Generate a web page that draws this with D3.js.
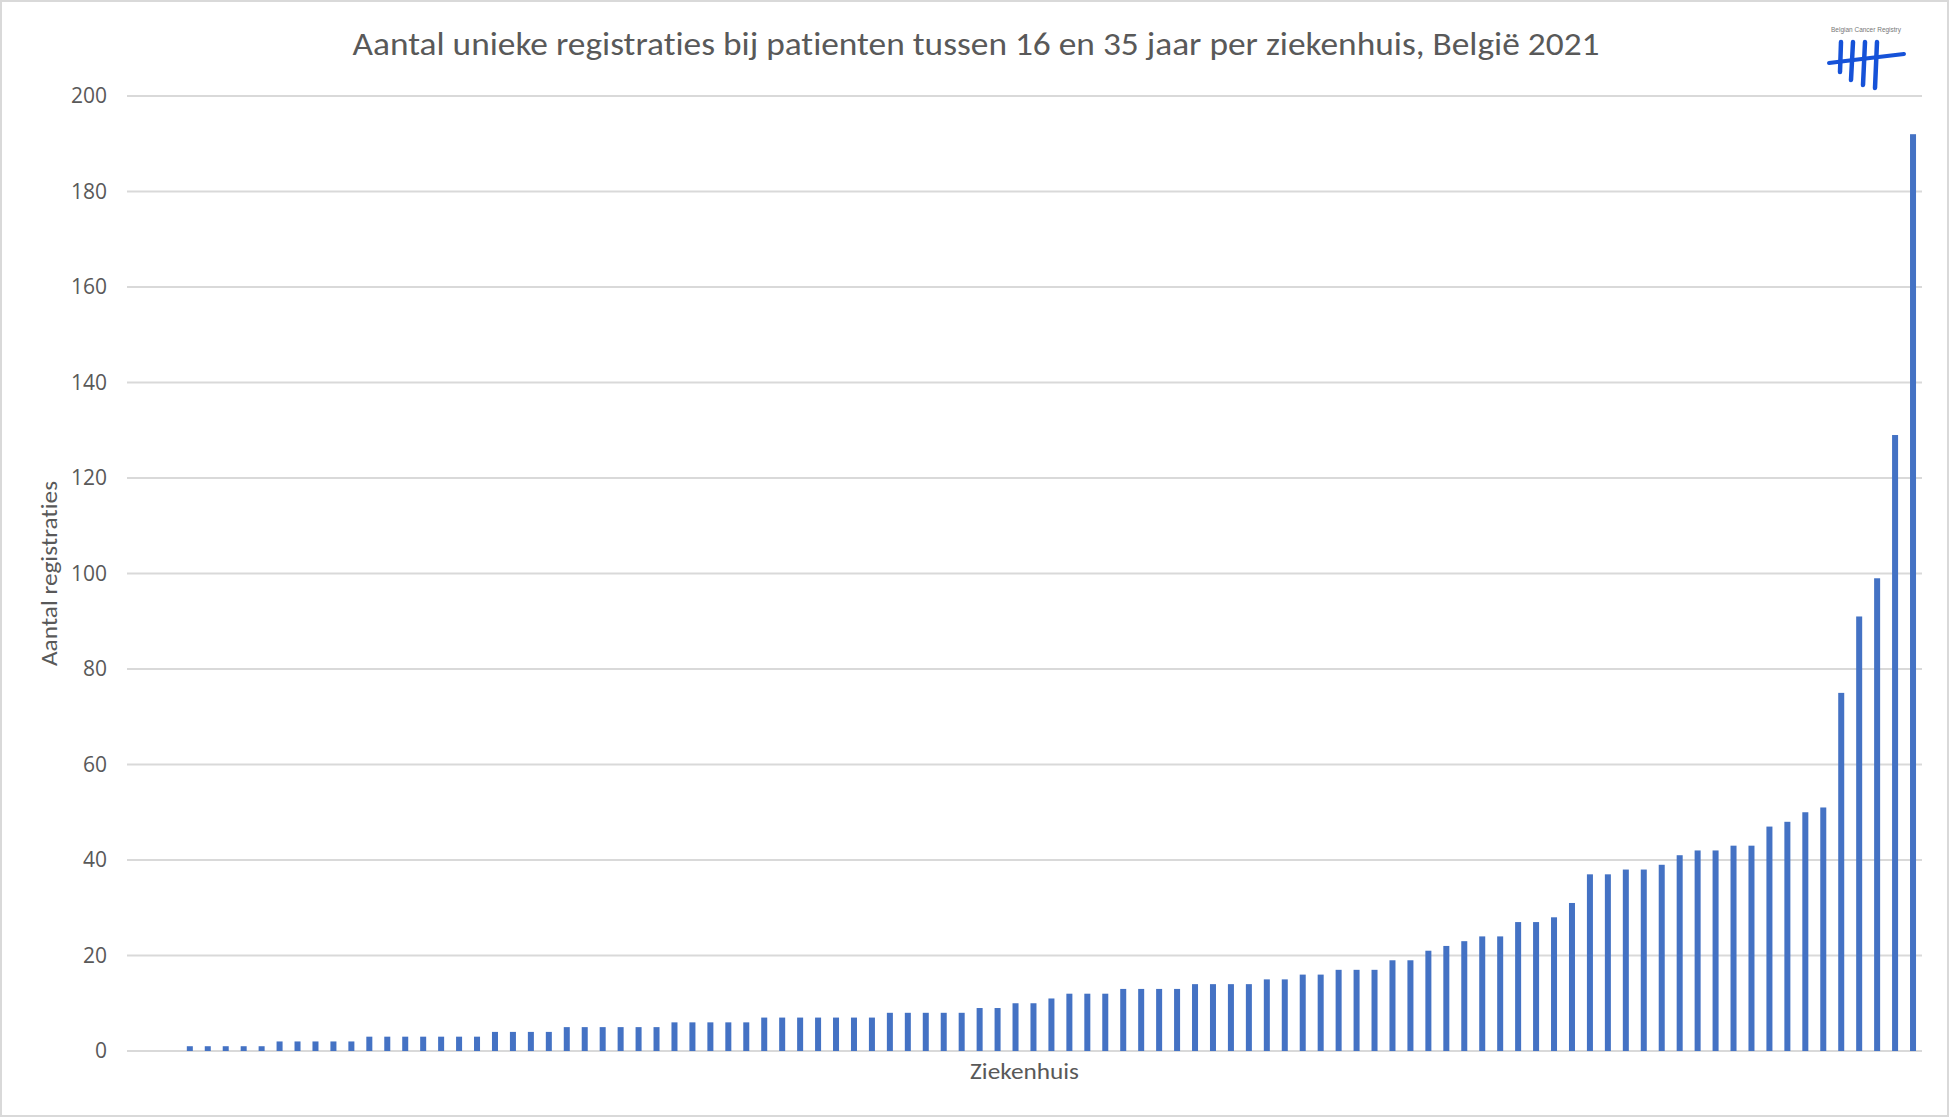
<!DOCTYPE html>
<html>
<head>
<meta charset="utf-8">
<script src="https://cdn.jsdelivr.net/npm/d3@7/dist/d3.min.js"></script>
<style>
  html, body { margin: 0; padding: 0; background: #ffffff; }
  svg { display: block; }
  text { font-variant-ligatures: none; font-feature-settings: "liga" 0, "clig" 0, "dlig" 0; }
</style>
</head>
<body>
<script>
// ---- DATA ----
const titleText = "Aantal unieke registraties bij patienten tussen 16 en 35 jaar per ziekenhuis, België 2021";
const yAxisTitle = "Aantal registraties";
const xAxisTitle = "Ziekenhuis";
const logoText = "Belgian Cancer Registry";

const hospitals = [1,2,3,4,5,6,7,8,9,10,11,12,13,14,15,16,17,18,19,20,
  21,22,23,24,25,26,27,28,29,30,31,32,33,34,35,36,37,38,39,40,
  41,42,43,44,45,46,47,48,49,50,51,52,53,54,55,56,57,58,59,60,
  61,62,63,64,65,66,67,68,69,70,71,72,73,74,75,76,77,78,79,80,
  81,82,83,84,85,86,87,88,89,90,91,92,93,94,95,96,97,98,99,100];

const registraties = [0,0,0,
  1,1,1,1,1,
  2,2,2,2,2,
  3,3,3,3,3,3,3,
  4,4,4,4,
  5,5,5,5,5,5,
  6,6,6,6,6,
  7,7,7,7,7,7,7,
  8,8,8,8,8,
  9,9,
  10,10,
  11,
  12,12,12,
  13,13,13,13,
  14,14,14,14,
  15,15,
  16,16,
  17,17,17,
  19,19,
  21,22,23,24,24,27,27,28,31,37,37,38,38,39,41,42,42,43,43,47,48,50,51,75,91,99,129,192];

const yTicks = [0,20,40,60,80,100,120,140,160,180,200];

// ---- LAYOUT ----
const W = 1949, H = 1117;
const plot = { left: 127, right: 1922, top: 96, bottom: 1051 };
const textColor = "#595959";
const gridColor = "#D9D9D9";
const barColor = "#4472C4";

const svg = d3.select("body").append("svg")
  .attr("width", W).attr("height", H);

// outer border
svg.append("rect")
  .attr("x", 1).attr("y", 1).attr("width", W - 2).attr("height", H - 2)
  .attr("fill", "#ffffff").attr("stroke", gridColor).attr("stroke-width", 2);

const x = d3.scaleBand()
  .domain(hospitals)
  .range([plot.left, plot.right])
  .paddingInner(0.665)
  .paddingOuter(0.3325);

const y = d3.scaleLinear()
  .domain([0, 200])
  .range([plot.bottom, plot.top]);

// gridlines
svg.append("g")
  .selectAll("line")
  .data(yTicks)
  .join("line")
  .attr("x1", plot.left).attr("x2", plot.right)
  .attr("y1", d => y(d)).attr("y2", d => y(d))
  .attr("stroke", gridColor).attr("stroke-width", 2);

// y axis labels
const yAxis = d3.axisLeft(y).tickValues(yTicks).tickSize(0).tickPadding(20);
const yg = svg.append("g")
  .attr("transform", `translate(${plot.left},0)`)
  .call(yAxis);
yg.select(".domain").remove();
yg.selectAll("text")
  .attr("fill", textColor)
  .style("font-family", "'Open Sans', 'DejaVu Sans', sans-serif")
  .style("font-size", "21px");

// bars
svg.append("g")
  .selectAll("rect")
  .data(hospitals.map((h, i) => ({ h, v: registraties[i] })))
  .join("rect")
  .attr("x", d => x(d.h))
  .attr("width", x.bandwidth())
  .attr("y", d => y(d.v))
  .attr("height", d => y(0) - y(d.v))
  .attr("fill", barColor);

// title
svg.append("text")
  .attr("x", 976).attr("y", 55)
  .attr("text-anchor", "middle")
  .attr("fill", textColor)
  .attr("textLength", 1247)
  .attr("lengthAdjust", "spacingAndGlyphs")
  .style("font-family", "Carlito, Lato, 'Open Sans', sans-serif")
  .style("font-size", "33px")
  .text(titleText);

// y axis title
svg.append("text")
  .attr("transform", `translate(57, ${(plot.top + plot.bottom) / 2}) rotate(-90)`)
  .attr("text-anchor", "middle")
  .attr("fill", textColor)
  .attr("textLength", 185)
  .attr("lengthAdjust", "spacingAndGlyphs")
  .style("font-family", "Carlito, Lato, 'Open Sans', sans-serif")
  .style("font-size", "23px")
  .text(yAxisTitle);

// x axis title
svg.append("text")
  .attr("x", (plot.left + plot.right) / 2).attr("y", 1079)
  .attr("text-anchor", "middle")
  .attr("fill", textColor)
  .attr("textLength", 109)
  .attr("lengthAdjust", "spacingAndGlyphs")
  .style("font-family", "Carlito, Lato, 'Open Sans', sans-serif")
  .style("font-size", "23px")
  .text(xAxisTitle);

// logo
const logo = svg.append("g");
logo.append("text")
  .attr("x", 1866).attr("y", 32)
  .attr("text-anchor", "middle")
  .attr("fill", "#777777")
  .attr("textLength", 70)
  .attr("lengthAdjust", "spacingAndGlyphs")
  .style("font-family", "'Liberation Sans', sans-serif")
  .style("font-size", "7px")
  .text(logoText);
const logoBlue = "#1652D8";
const strokes = [
  [[1841, 42], [1840, 72]],
  [[1853, 42], [1851, 80]],
  [[1865, 42], [1863, 85]],
  [[1877, 42], [1875, 88]]
];
logo.selectAll("path.v")
  .data(strokes)
  .join("path")
  .attr("d", d => d3.line()(d))
  .attr("stroke", logoBlue).attr("stroke-width", 4.5)
  .attr("stroke-linecap", "round").attr("fill", "none");
logo.append("path")
  .attr("d", d3.line()([[1829, 63], [1870, 58], [1904, 54]]))
  .attr("stroke", logoBlue).attr("stroke-width", 4)
  .attr("stroke-linecap", "round").attr("fill", "none");
</script>
</body>
</html>
